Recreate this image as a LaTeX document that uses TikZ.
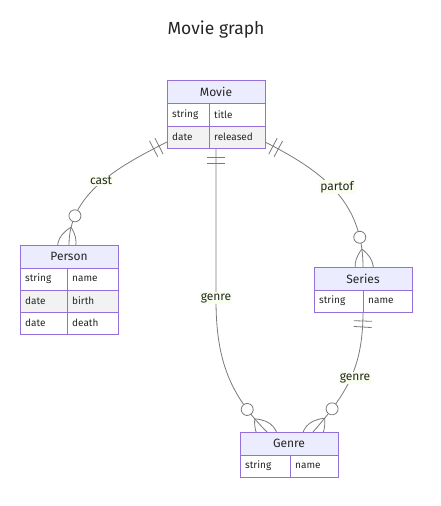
\documentclass[tikz,border=0pt]{standalone}
\usepackage{fontspec}
\setmainfont{Fira Sans}
\usetikzlibrary{decorations.markings}
\definecolor{hdrc}{HTML}{ECECFF}
\definecolor{bordc}{HTML}{9370DB}
\definecolor{evenc}{HTML}{F2F2F2}
\definecolor{edgec}{HTML}{7A7A7A}
\definecolor{lblbg}{RGB}{249,255,238}
\tikzset{
  x=1pt, y=-1pt,
  mk/.style={draw=edgec, line width=0.8pt},
  /pgf/decoration/onestart/.style={
    mark=at position 9pt with {\draw[mk] (0,-9pt)--(0,9pt);},
    mark=at position 15pt with {\draw[mk] (0,-9pt)--(0,9pt);}},
  /pgf/decoration/manyend/.style={
    mark=at position -30pt with {\draw[mk, fill=white] (0,0) circle[radius=6pt];},
    mark=at position -18pt with {\draw[mk] (0,0) .. controls (12pt,12pt) and (24pt,12pt) .. (36pt,0pt) .. controls (24pt,-12pt) and (12pt,-12pt) .. (0,0);}},
  er/.style={draw=edgec, line width=0.8pt, postaction={decorate, decoration={markings, #1}}},
  entbox/.style={anchor=north west, inner sep=0pt, outer sep=0pt},
  cell/.style={draw=bordc, line width=0.9pt},
  hdrtxt/.style={font=\fontsize{12}{14}\selectfont, text=black!85},
  attr/.style={anchor=west, font=\fontsize{10}{12}\selectfont, text=black!85, inner sep=0pt},
  lbl/.style={fill=lblbg, font=\fontsize{12}{14}\selectfont, text=black!85, inner sep=1pt},
  ttl/.style={font=\fontsize{17.5}{20}\selectfont, text=black!85}
}
\begin{document}
\begin{tikzpicture}
\useasboundingbox (0,0) rectangle (440,506);
% title
\node[ttl] (title) at (216,30) {Movie graph};
% entity frames (for anchors)
\node[entbox, minimum width=98pt, minimum height=68pt] (movie) at (167,80) {};
\node[entbox, minimum width=98pt, minimum height=89pt] (person) at (20,245) {};
\node[entbox, minimum width=98pt, minimum height=45pt] (series) at (314,267) {};
\node[entbox, minimum width=98pt, minimum height=45pt] (genre) at (240,432) {};
% relationships
\draw[er={onestart,manyend}] ([yshift=6pt]movie.south west) .. controls (115,168) and (69,195) .. (person.north);
\draw[er={onestart,manyend}] ([yshift=6pt]movie.south east) .. controls (320,170) and (363,200) .. (series.north);
\draw[er={onestart,manyend}] (movie.south) -- (216,300) .. controls (216,360) and (230,395) .. ([xshift=27pt]genre.north west);
\draw[er={onestart,manyend}] (series.south) .. controls (363,370) and (345,395) .. ([xshift=-25pt]genre.north east);
% Movie
\draw[cell, fill=hdrc] (167,80) rectangle (265,103);
\draw[cell, fill=white] (167,103) rectangle (265,126);
\draw[cell, fill=evenc] (167,126) rectangle (265,148);
\draw[cell] (209,103) -- (209,148);
\node[hdrtxt] (movieh) at (216,91.5) {Movie};
\node[attr] (m1t) at (172,114.5) {string};
\node[attr] (m1n) at (214,114.5) {title};
\node[attr] (m2t) at (172,137) {date};
\node[attr] (m2n) at (214,137) {released};
% Person
\draw[cell, fill=hdrc] (20,245) rectangle (118,268);
\draw[cell, fill=white] (20,268) rectangle (118,290);
\draw[cell, fill=evenc] (20,290) rectangle (118,312);
\draw[cell, fill=white] (20,312) rectangle (118,334);
\draw[cell] (67,268) -- (67,334);
\node[hdrtxt] (personh) at (69,256.5) {Person};
\node[attr] (p1t) at (25,279) {string};
\node[attr] (p1n) at (72,279) {name};
\node[attr] (p2t) at (25,301) {date};
\node[attr] (p2n) at (72,301) {birth};
\node[attr] (p3t) at (25,323) {date};
\node[attr] (p3n) at (72,323) {death};
% Series
\draw[cell, fill=hdrc] (314,267) rectangle (412,290);
\draw[cell, fill=white] (314,290) rectangle (412,312);
\draw[cell] (363,290) -- (363,312);
\node[hdrtxt] (seriesh) at (363,278.5) {Series};
\node[attr] (s1t) at (319,301) {string};
\node[attr] (s1n) at (368,301) {name};
% Genre
\draw[cell, fill=hdrc] (240,432) rectangle (338,455);
\draw[cell, fill=white] (240,455) rectangle (338,477);
\draw[cell] (290,455) -- (290,477);
\node[hdrtxt] (genreh) at (289,443.5) {Genre};
\node[attr] (g1t) at (245,466) {string};
\node[attr] (g1n) at (295,466) {name};
% labels
\node[lbl] (lcast) at (101,181) {cast};
\node[lbl] (lpart) at (337,187) {partof};
\node[lbl] (lgen1) at (216,298) {genre};
\node[lbl] (lgen2) at (355,378) {genre};
\end{tikzpicture}
\end{document}
